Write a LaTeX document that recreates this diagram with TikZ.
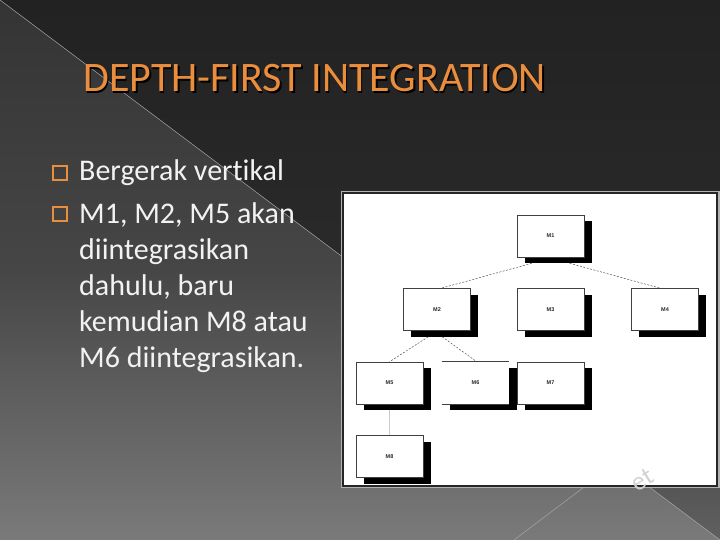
\documentclass[tikz,border=0pt]{standalone}
\usepackage{fontspec}
\setmainfont[Ligatures={NoCommon,NoContextual}]{Carlito}
\setsansfont{Liberation Sans}
\usetikzlibrary{calc,shadows}
\definecolor{ttl}{RGB}{234,142,62}
\definecolor{bgtop}{RGB}{34,34,34}
\definecolor{bgmid}{RGB}{42,42,42}
\definecolor{bgbot}{RGB}{96,96,96}
\definecolor{tritop}{RGB}{52,52,52}
\definecolor{trimid}{RGB}{70,70,70}
\definecolor{tribot}{RGB}{122,122,122}
\tikzset{
  mbox/.style={draw=black!75, line width=0.6pt, fill=white, minimum width=67pt, minimum height=42pt,
    inner sep=0pt, font=\sffamily\bfseries\fontsize{5.5}{6}\selectfont, text=black!85,
    drop shadow={shadow xshift=7.5pt, shadow yshift=-6pt, fill=black, opacity=1, draw=none}},
  link/.style={dashed, dash pattern=on 2pt off 1.5pt, line width=0.4pt, draw=black!80},
  bullettext/.style={anchor=base west, inner sep=0pt, text=white!95!black, font=\fontsize{30}{36}\selectfont, align=left},
  bulletsq/.style={draw=ttl, line width=1.8pt, minimum size=14pt, inner sep=0pt}
}
\begin{document}
\begin{tikzpicture}[x=1pt,y=-1pt]
\useasboundingbox (0,0) rectangle (720,540);
% background
\shade[top color=bgtop, bottom color=bgbot, middle color=bgmid] (0,0) rectangle (720,540);
\shade[top color=tritop, bottom color=tribot, middle color=trimid] (0,0) -- (720,540) -- (0,540) -- cycle;
\draw[gray!70, line width=0.5pt] (0,0) -- (720,540);
\draw[gray!70, line width=0.5pt] (514,540) -- (600,475);
% title
\node[anchor=base west, inner sep=0pt, text=black, font=\fontsize{42}{44}\selectfont] at (84.5,93.5) {DEPTH-FIRST INTEGRATION};
\node[anchor=base west, inner sep=0pt, text=ttl, font=\fontsize{42}{44}\selectfont] (title) at (83,92) {DEPTH-FIRST INTEGRATION};
% bullets
\node[bulletsq] (b1) at (60,173) {};
\node[bullettext] (t1) at (79,181) {Bergerak vertikal};
\node[bulletsq] (b2) at (60,214) {};
\node[bullettext] (t2) at (79,367) {M1, M2, M5 akan\\diintegrasikan\\dahulu, baru\\kemudian M8 atau\\M6 diintegrasikan.};
% diagram frame
\fill[gray!60] (341,191) rectangle (720,488);
\draw[fill=white, draw=black!85, line width=1.2pt] (343,193) rectangle (717,486);
% watermark
\node[rotate=32, text=gray!35, font=\fontsize{26}{26}\selectfont] (wm) at (642,480) {et};
% boxes
\node[mbox] (M1) at (550.5,236) {M1};
\node[mbox] (M2) at (437,309.5) {M2};
\node[mbox] (M3) at (550.5,309.5) {M3};
\node[mbox] (M4) at (665,309.5) {M4};
\node[mbox] (M5) at (389.5,383) {M5};
\node[mbox, draw=none] (M6) at (475.5,383) {M6};
\draw[black!75, line width=0.6pt] (M6.north west) -- (M6.north east) (M6.south west) -- (M6.south east);
\node[mbox] (M7) at (550.5,383) {M7};
\node[mbox] (M8) at (389.5,456.5) {M8};
% connectors
\draw[link] ([xshift=15pt,yshift=-6pt]M1.south west) -- ([xshift=38pt]M2.north west);
\draw[link] ([xshift=53pt,yshift=-6pt]M1.south west) -- ([xshift=29pt]M4.north west);
\draw[link] ([xshift=25pt,yshift=-6pt]M2.south west) -- ([xshift=34pt]M5.north west);
\draw[link] ([xshift=39pt,yshift=-6pt]M2.south west) -- ([xshift=35pt]M6.north west);
\draw[gray!40, line width=0.5pt] ([yshift=-6pt]M5.south) -- (M8.north);
\end{tikzpicture}
\end{document}
